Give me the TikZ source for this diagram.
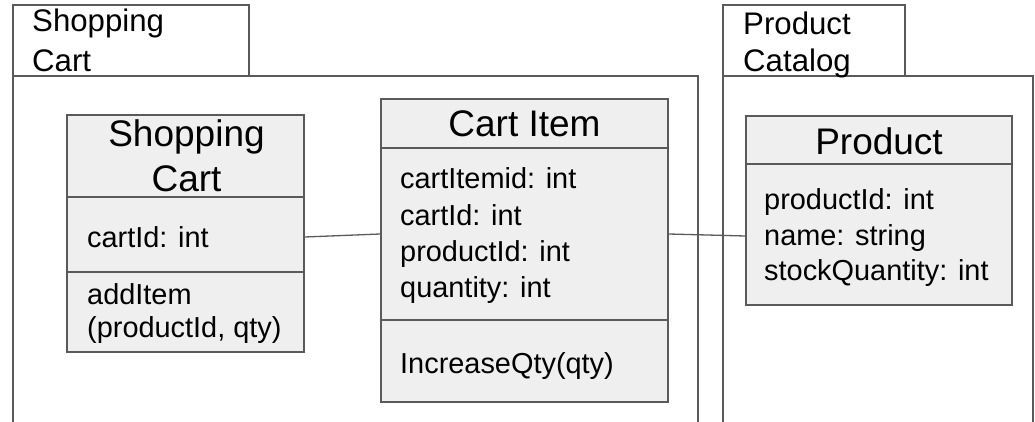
\documentclass[tikz,border=0pt]{standalone}
\usepackage{fontspec}
\setmainfont{Liberation Sans}
\definecolor{edge}{HTML}{5A5A5A}
\definecolor{classfill}{HTML}{EFEFEF}
\tikzset{
  pkgline/.style={draw=edge, line width=1.5pt},
  classbox/.style={draw=edge, fill=classfill, line width=1.7pt, inner sep=0pt},
  sep/.style={draw=edge, line width=1.7pt},
  link/.style={draw=edge, line width=1.3pt},
  tabtext/.style={anchor=base west, inner sep=0pt, font=\fontsize{31.2}{38}\selectfont},
  headtext/.style={anchor=base, inner sep=0pt, font=\fontsize{37}{45}\selectfont},
  bodytext/.style={anchor=base west, inner sep=0pt, font=\fontsize{28.9}{36}\selectfont},
}
\begin{document}
\begin{tikzpicture}[x=1pt,y=-1pt]
\useasboundingbox (0,0) rectangle (1035,422);

% package: Shopping Cart
\node[pkgline, rectangle, minimum width=236pt, minimum height=71pt, inner sep=0pt] (pkgA) at (131,40.5) {};
\draw[pkgline] (13,422) -- (13,76) -- (698,76) -- (698,422);
\node[tabtext] (pkgAt1) at (32,32) {Shopping};
\node[tabtext] (pkgAt2) at (32,72) {Cart};

% package: Product Catalog
\node[pkgline, rectangle, minimum width=182pt, minimum height=71pt, inner sep=0pt] (pkgB) at (814,40.5) {};
\draw[pkgline] (723,422) -- (723,76) -- (1033,76) -- (1033,422);
\node[tabtext] (pkgBt1) at (743,35) {Product};
\node[tabtext] (pkgBt2) at (743,72) {Catalog};

% class: Shopping Cart
\node[classbox, minimum width=237pt, minimum height=237pt] (sc) at (185.5,233.5) {};
\draw[sep] (67,197) -- (304,197);
\draw[sep] (67,272) -- (304,272);
\node[headtext] (scH1) at (186.5,147) {Shopping};
\node[headtext] (scH2) at (186.5,192) {Cart};
\node[bodytext] (scA1) at (87,247) {cartId: int};
\node[bodytext] (scM1) at (87,304) {addItem};
\node[bodytext] (scM2) at (87,337) {(productId, qty)};

% class: Cart Item
\node[classbox, minimum width=287pt, minimum height=303pt] (ci) at (524.5,250.5) {};
\draw[sep] (381,148) -- (668,148);
\draw[sep] (381,320) -- (668,320);
\node[headtext] (ciH) at (524.5,137) {Cart Item};
\node[bodytext] (ciA1) at (400,189) {cartItemid: int};
\node[bodytext] (ciA2) at (400,225) {cartId: int};
\node[bodytext] (ciA3) at (400,261) {productId: int};
\node[bodytext] (ciA4) at (400,297) {quantity: int};
\node[bodytext] (ciM1) at (400,373) {IncreaseQty(qty)};

% class: Product
\node[classbox, minimum width=266pt, minimum height=189pt] (pr) at (879,210.5) {};
\draw[sep] (746,164) -- (1012,164);
\node[headtext] (prH) at (879,155) {Product};
\node[bodytext] (prA1) at (764,209) {productId: int};
\node[bodytext] (prA2) at (764,245) {name: string};
\node[bodytext] (prA3) at (764,280) {stockQuantity: int};

% associations
\draw[link] (sc.east |- 0,237) -- (ci.west |- 0,234);
\draw[link] (ci.east |- 0,234) -- (pr.west |- 0,236);
\end{tikzpicture}
\end{document}
